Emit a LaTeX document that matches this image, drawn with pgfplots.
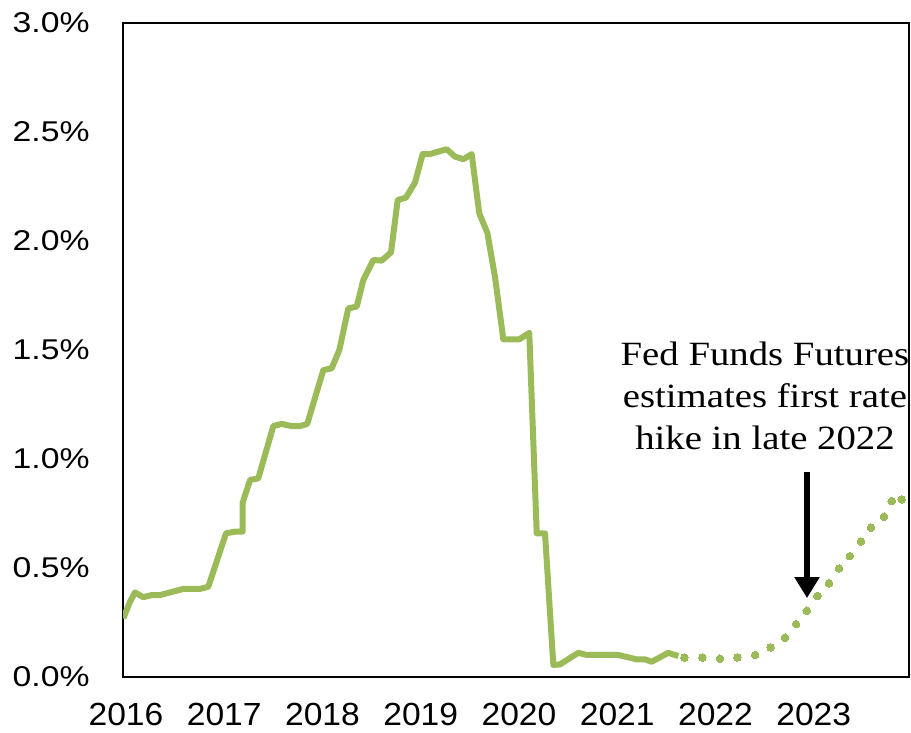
\documentclass[border=0pt]{standalone}
\usepackage{fontspec}
\setmainfont{Liberation Serif}
\newfontfamily\annfont[FakeStretch=1.14]{Liberation Serif}
\newfontfamily\ylabfont[FakeStretch=1.18]{Liberation Sans}
\newfontfamily\xlabfont[FakeStretch=1.05]{Liberation Sans}
\usepackage{pgfplots}
\pgfplotsset{compat=1.18}
\usetikzlibrary{arrows.meta}
\definecolor{fedgreen}{RGB}{155,187,89}
\begin{document}
\begin{tikzpicture}
\begin{axis}[
  scale only axis,
  width=393pt, height=327pt,
  xmin=2016, xmax=2024,
  ymin=0, ymax=3,
  axis line style={line width=1.3pt},
  major tick length=0pt,
  xtick={2016,2017,2018,2019,2020,2021,2022,2023},
  xticklabels={2016,2017,2018,2019,2020,2021,2022,2023},
  ytick={0,0.5,1,1.5,2,2.5,3},
  yticklabels={0.0\%,0.5\%,1.0\%,1.5\%,2.0\%,2.5\%,3.0\%},
  yticklabel style={font=\fontsize{14.3}{16}\ylabfont, anchor=east, inner sep=0pt, xshift=-16.5pt},
  xticklabel style={font=\fontsize{16}{18}\xlabfont, anchor=north, inner sep=0pt, xshift=1.5pt, yshift=-13pt},
]
\addplot[fedgreen, line width=3pt, line join=round] coordinates {
(2016.003,0.269) (2016.071,0.345) (2016.122,0.388) (2016.207,0.366)
(2016.292,0.376) (2016.377,0.376) (2016.614,0.404) (2016.784,0.404)
(2016.868,0.414) (2016.936,0.506) (2017.048,0.659) (2017.140,0.667)
(2017.218,0.667) (2017.218,0.800) (2017.293,0.904) (2017.377,0.911)
(2017.445,1.018) (2017.530,1.151) (2017.615,1.161) (2017.717,1.151)
(2017.802,1.151) (2017.876,1.161) (2017.937,1.255) (2018.039,1.408)
(2018.124,1.416) (2018.202,1.500) (2018.293,1.691) (2018.379,1.699)
(2018.446,1.821) (2018.548,1.913) (2018.633,1.910) (2018.728,1.948)
(2018.796,2.188) (2018.880,2.199) (2018.972,2.268) (2019.050,2.399)
(2019.125,2.399) (2019.295,2.421) (2019.379,2.387) (2019.464,2.375)
(2019.549,2.399) (2019.626,2.127) (2019.708,2.038) (2019.786,1.836)
(2019.871,1.549) (2020.034,1.549) (2020.135,1.579) (2020.211,0.659)
(2020.295,0.659) (2020.380,0.055) (2020.448,0.058) (2020.634,0.111)
(2020.720,0.101) (2021.041,0.101) (2021.229,0.081) (2021.313,0.081)
(2021.381,0.070) (2021.550,0.111) (2021.652,0.096)
};
\addplot[fedgreen, only marks, mark=*, mark size=1.9pt, mark options={fill=fedgreen, draw=fedgreen, line width=0pt}] coordinates {
(2021.713,0.089) (2021.896,0.089) (2022.076,0.084) (2022.253,0.090)
(2022.433,0.101) (2022.592,0.136) (2022.738,0.180) (2022.850,0.243)
(2022.959,0.304) (2023.067,0.372) (2023.186,0.430) (2023.288,0.498)
(2023.399,0.555) (2023.511,0.621) (2023.613,0.685) (2023.746,0.735)
(2023.824,0.807) (2023.926,0.815)
};
\draw[line width=2.6pt, -{Triangle[width=12pt, length=10.5pt]}] (axis cs:2022.962,0.940) -- (axis cs:2022.962,0.362);
\node[anchor=north, align=center, inner sep=0pt, font=\fontsize{17}{21}\annfont] at (axis cs:2022.534,1.537)
  {Fed Funds Futures\\estimates first rate\\hike in late 2022};
\end{axis}
\pgfresetboundingbox
\path[use as bounding box] ([shift={(-61.5pt,-27.5pt)}]current axis.south west) rectangle ([shift={(1pt,11.5pt)}]current axis.north east);
\end{tikzpicture}
\end{document}
